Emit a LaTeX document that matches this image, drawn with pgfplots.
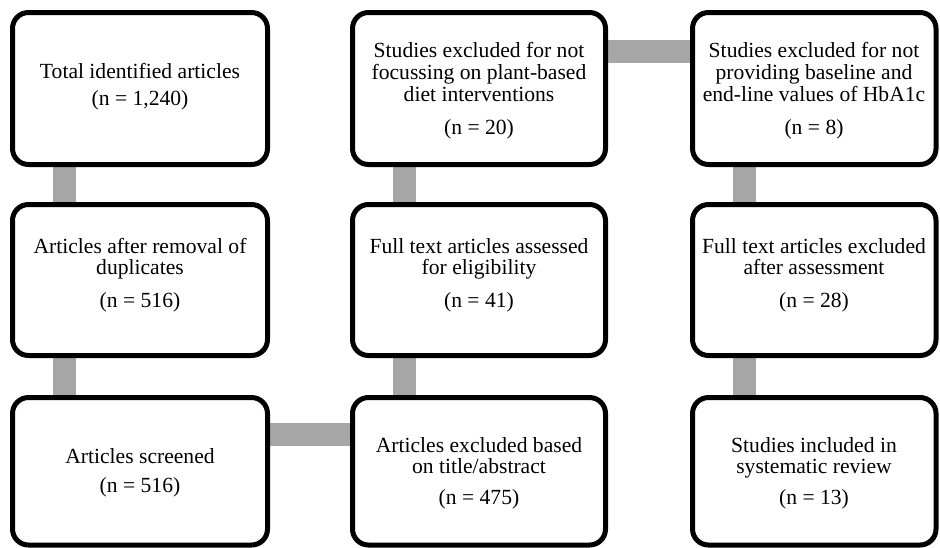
\documentclass[border=0pt]{standalone}
\usepackage{pgfplots}
\pgfplotsset{compat=1.18}
\usepackage{fontspec}
\setmainfont{Liberation Serif}
\usetikzlibrary{shadows}
\definecolor{link}{HTML}{A6A6A6}

% one flowchart box: x0, y0, x1, y1 (pixel units of the axis)
\newcommand{\flowbox}[4]{%
  \draw[line width=2.5pt, rounded corners=8pt, fill=white,
        drop shadow={shadow xshift=0.9pt, shadow yshift=-0.9pt, opacity=0.35, fill=black}]
    (axis cs:#1,#2) rectangle (axis cs:#3,#4);}
\newcommand{\flowtext}[3]{%
  \node[align=center, font=\fontsize{10.8}{10.8}\selectfont, inner sep=0pt]
    at (axis cs:#1,#2) {#3};}

\begin{document}
\begin{tikzpicture}
\begin{axis}[
    width=470pt, height=273.5pt, scale only axis,
    xmin=0, xmax=940, ymin=0, ymax=547, y dir=reverse,
    axis lines=none, ticks=none, clip=true,
]
% connectors
\addplot[link, line width=11.5pt] coordinates {(64.5,160) (64.5,210)};
\addplot[link, line width=11.5pt] coordinates {(64.5,350) (64.5,402)};
\addplot[link, line width=11.5pt] coordinates {(404,160) (404,210)};
\addplot[link, line width=11.5pt] coordinates {(404,350) (404,402)};
\addplot[link, line width=11.5pt] coordinates {(744.5,160) (744.5,210)};
\addplot[link, line width=11.5pt] coordinates {(744.5,350) (744.5,402)};
\addplot[link, line width=11.5pt] coordinates {(600,51) (700,51)};
\addplot[link, line width=11.5pt] coordinates {(262,434.5) (358,434.5)};

% boxes
\flowbox{12.5}{12.5}{267.5}{164.5}
\flowbox{352.5}{12.5}{605.5}{164.5}
\flowbox{692.5}{12.5}{936}{164.5}
\flowbox{12.5}{204.5}{267.5}{355.5}
\flowbox{352.5}{204.5}{605.5}{355.5}
\flowbox{692.5}{204.5}{936}{355.5}
\flowbox{12.5}{397.5}{267.5}{545}
\flowbox{352.5}{397.5}{605.5}{545}
\flowbox{692.5}{397.5}{936}{545}

% texts
\flowtext{140}{87}{Total identified articles\\[2.8pt](n = 1,240)}
\flowtext{479}{91}{Studies excluded for not\\focussing on plant-based\\diet interventions\\[6pt](n = 20)}
\flowtext{814}{91}{Studies excluded for not\\providing baseline and\\end-line values of HbA1c\\[6pt](n = 8)}
\flowtext{140}{275}{Articles after removal of\\duplicates\\[5.5pt](n = 516)}
\flowtext{479}{275}{Full text articles assessed\\for eligibility\\[5.5pt](n = 41)}
\flowtext{814}{275}{Full text articles excluded\\after assessment\\[5.5pt](n = 28)}
\flowtext{140}{473}{Articles screened\\[3.5pt](n = 516)}
\flowtext{479}{473}{Articles excluded based\\on title/abstract\\[4.5pt](n = 475)}
\flowtext{814}{473}{Studies included in\\systematic review\\[4.5pt](n = 13)}
\end{axis}
\pgfresetboundingbox
\path (current axis.south west) rectangle (current axis.north east);
\end{tikzpicture}
\end{document}
